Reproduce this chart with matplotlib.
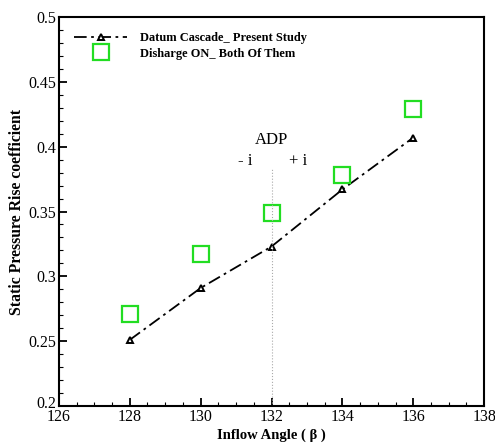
import numpy as np
import matplotlib.pyplot as plt
import matplotlib.transforms as mtransforms
from matplotlib.ticker import MultipleLocator

plt.rcParams['font.family'] = ['Liberation Serif', 'DejaVu Serif']

############################################
angle = [128, 130, 132, 134, 136]
datum = [0.251, 0.291, 0.323, 0.367, 0.407]
disharge = [0.271, 0.317, 0.349, 0.378, 0.429]
############################################

fig = plt.figure(figsize=(4.95, 4.44), dpi=100)
ax = fig.add_axes([0.119, 0.0856, 0.859, 0.876])

ax.plot(angle, datum, color='k', linestyle=(0, (7, 2.5, 1.5, 2.5)), linewidth=1.3,
        marker='^', markersize=4.5, markerfacecolor='white', markeredgecolor='k',
        markeredgewidth=1.4, label='Datum Cascade_ Present Study')
ax.plot(angle, disharge, linestyle='none', marker='s', markersize=12,
        markerfacecolor='white', markeredgecolor='#22dd22', markeredgewidth=1.6,
        label='Disharge ON_ Both Of Them')

# ADP marker
ax.plot([132, 132], [0.2, 0.383], color='#aaaaaa', linestyle=':', linewidth=0.8)
ax.text(132, 0.405, 'ADP', ha='center', va='center', fontsize=12)
ax.text(131.25, 0.389, '- i', ha='center', va='center', fontsize=12)
ax.text(132.75, 0.389, '+ i', ha='center', va='center', fontsize=12)

ax.set_xlim(126, 138)
ax.set_ylim(0.2, 0.5)
ax.xaxis.set_major_locator(MultipleLocator(2))
ax.xaxis.set_minor_locator(MultipleLocator(0.5))
ax.yaxis.set_major_locator(MultipleLocator(0.05))
ax.yaxis.set_minor_locator(MultipleLocator(0.01))
ax.set_yticks([0.2, 0.25, 0.3, 0.35, 0.4, 0.45, 0.5])
ax.set_yticklabels(['0.2', '0.25', '0.3', '0.35', '0.4', '0.45', '0.5'])
ax.tick_params(which='both', direction='in', top=False, right=False, labelsize=11.5, pad=2)
ax.tick_params(which='major', length=6, width=1.3)
ax.tick_params(which='minor', length=3, width=0.8)
for s in ax.spines.values():
    s.set_linewidth(1.5)

# nudge the corner label so 0.2 and 126 don't collide
lab = ax.get_yticklabels()[0]
lab.set_transform(lab.get_transform() + mtransforms.ScaledTranslation(0, 3 / 72, fig.dpi_scale_trans))

ax.set_xlabel('Inflow Angle ( β )', fontsize=10.5, fontweight='bold', labelpad=3)
ax.set_ylabel('Static Pressure Rise coefficient', fontsize=11.3, fontweight='bold')
ax.yaxis.set_label_coords(-0.08, 0.5)

ax.legend(loc='upper left', bbox_to_anchor=(0.01, 0.99), frameon=False,
          prop={'size': 8.9, 'weight': 'bold'}, handlelength=4.3, handletextpad=1.0,
          labelspacing=0.3)

plt.savefig('out.png', dpi=100)
